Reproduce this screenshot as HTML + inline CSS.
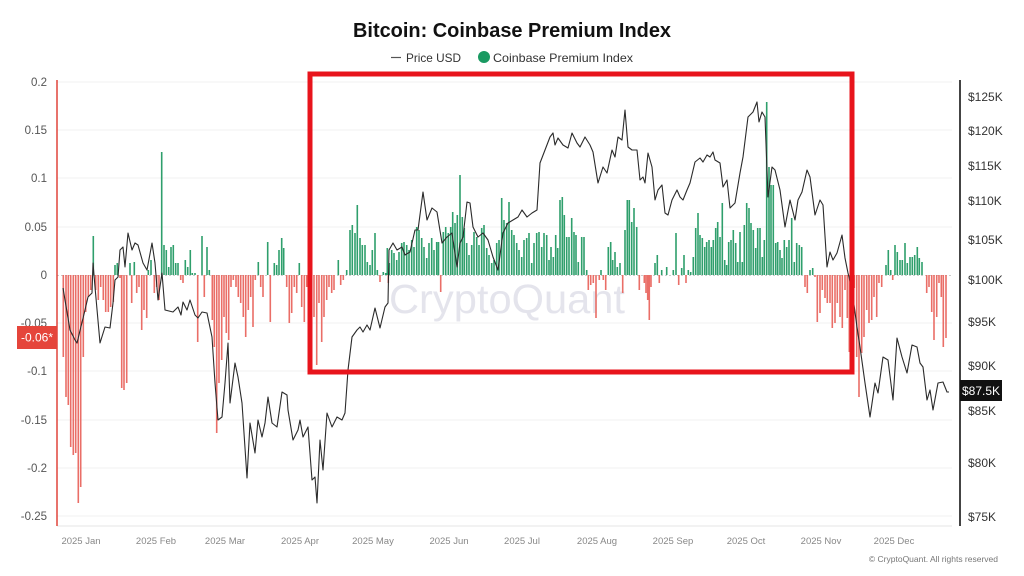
<!DOCTYPE html>
<html><head><meta charset="utf-8"><style>
html,body{margin:0;padding:0;background:#fff;}
svg{display:block;font-family:"Liberation Sans",sans-serif;}
</style></head><body>
<svg width="1024" height="576" viewBox="0 0 1024 576" xmlns="http://www.w3.org/2000/svg">
<rect width="1024" height="576" fill="#fff"/>
<text x="512" y="37" text-anchor="middle" font-size="20" font-weight="bold" fill="#111" textLength="318" lengthAdjust="spacingAndGlyphs">Bitcoin: Coinbase Premium Index</text>
<line x1="391" y1="57.5" x2="401" y2="57.5" stroke="#555" stroke-width="1.2"/>
<text x="406" y="62" font-size="12" fill="#333" textLength="55" lengthAdjust="spacingAndGlyphs">Price USD</text>
<circle cx="484" cy="57" r="6" fill="#1a9a62"/>
<text x="493" y="62" font-size="12" fill="#333" textLength="140" lengthAdjust="spacingAndGlyphs">Coinbase Premium Index</text>
<g stroke="#f1f1f1" stroke-width="1">
<line x1="57" y1="82" x2="952" y2="82"/><line x1="57" y1="130" x2="952" y2="130"/><line x1="57" y1="178" x2="952" y2="178"/><line x1="57" y1="227" x2="952" y2="227"/><line x1="57" y1="323" x2="952" y2="323"/><line x1="57" y1="371" x2="952" y2="371"/><line x1="57" y1="420" x2="952" y2="420"/><line x1="57" y1="468" x2="952" y2="468"/><line x1="57" y1="516" x2="952" y2="516"/>
</g>
<line x1="57" y1="526" x2="952" y2="526" stroke="#e6e6e6" stroke-width="1"/>
<line x1="57" y1="275.5" x2="952" y2="275.5" stroke="#ccc" stroke-width="1" stroke-dasharray="2,2"/>
<text x="507" y="313" text-anchor="middle" font-size="41" fill="#e4e4ec" textLength="236" lengthAdjust="spacingAndGlyphs">CryptoQuant</text>
<g font-size="11.5" fill="#555" text-anchor="end">
<text x="47" y="86">0.2</text><text x="47" y="134">0.15</text><text x="47" y="182">0.1</text><text x="47" y="231">0.05</text><text x="47" y="279">0</text><text x="47" y="327">-0.05</text><text x="47" y="375">-0.1</text><text x="47" y="424">-0.15</text><text x="47" y="472">-0.2</text><text x="47" y="520">-0.25</text>
</g>
<g font-size="12" fill="#333">
<text x="968" y="101">$125K</text><text x="968" y="135">$120K</text><text x="968" y="170">$115K</text><text x="968" y="205">$110K</text><text x="968" y="244">$105K</text><text x="968" y="284">$100K</text><text x="968" y="326">$95K</text><text x="968" y="370">$90K</text><text x="968" y="415">$85K</text><text x="968" y="467">$80K</text><text x="968" y="521">$75K</text>
</g>
<g font-size="9.5" fill="#888" text-anchor="middle">
<text x="81" y="544">2025 Jan</text><text x="156" y="544">2025 Feb</text><text x="225" y="544">2025 Mar</text><text x="300" y="544">2025 Apr</text><text x="373" y="544">2025 May</text><text x="449" y="544">2025 Jun</text><text x="522" y="544">2025 Jul</text><text x="597" y="544">2025 Aug</text><text x="673" y="544">2025 Sep</text><text x="746" y="544">2025 Oct</text><text x="821" y="544">2025 Nov</text><text x="894" y="544">2025 Dec</text>
</g>
<text x="998" y="562" text-anchor="end" font-size="8.5" fill="#777">© CryptoQuant. All rights reserved</text>
<path fill="none" stroke="#ea6e67" stroke-width="1.6" d="M63.3 275V357M66 275V397M68.3 275V405M70.7 275V447M73.3 275V455M75.7 275V453M78.3 275V503M80.7 275V487M83.3 275V357M85.7 275V312M88.3 275V297M90.7 275V290M95.7 275V290M98.3 275V300M100.7 275V287M103.3 275V300M105.7 275V312M108.3 275V312M110.7 275V307M113.3 275V302M120 275V278M121.7 275V388M124 275V390M126.7 275V383M131.7 275V303M136.7 275V293M139 275V287M141.7 275V330M144 275V310M146.7 275V318M154.3 275V293M156.7 275V287M159 275V300M180.7 275V280M183 275V283M197.7 275V342M204.3 275V297M212.3 275V320M214.3 275V347M216.7 275V433M219 275V383M221.7 275V360M224 275V317M226.3 275V333M228.7 275V340M231 275V287M233.3 275V280M236 275V287M238.3 275V297M240.7 275V303M243.3 275V317M245.7 275V337M248.3 275V310M250.7 275V297M253 275V327M255.3 275V280M260.7 275V287M263 275V297M270.3 275V322M286.7 275V287M289.3 275V323M291.7 275V313M294.3 275V287M296.7 275V293M301.7 275V307M304.3 275V322M306.7 275V287M309.3 275V303M314 275V317M316.7 275V365M319 275V303M321.7 275V342M324 275V317M326.7 275V300M329 275V287M331.7 275V293M334 275V290M340.7 275V285M343.3 275V280M380 275V282M388.3 275V283M440.7 275V292M588.3 275V290M590.7 275V285M593.3 275V283M596 275V318M599.3 275V280M603.3 275V280M605.7 275V290M622.7 275V293M639.3 275V290M644.3 275V283M646 275V293M647.7 275V300M649.3 275V320M651 275V287M659.3 275V283M678.7 275V285M686 275V283M805 275V287M807.3 275V293M815 275V277M817.3 275V322M820 275V313M822.3 275V290M825 275V298M827.3 275V303M830 275V303M832.3 275V328M835 275V323M837.3 275V303M840 275V317M842.3 275V328M845 275V290M847.3 275V318M849.3 275V352M851.7 275V323M854.3 275V288M856.7 275V357M859 275V397M861.7 275V353M864 275V337M866.7 275V310M869 275V323M871.7 275V320M874 275V297M876.7 275V317M879 275V283M881.7 275V287M892.7 275V280M926.7 275V293M929 275V287M931.7 275V312M934 275V340M936.7 275V317M939 275V283M941.3 275V297M943.3 275V347M946 275V338"/>
<path fill="none" stroke="#2f9f6c" stroke-width="1.6" d="M93.3 275V236M115 275V265M117.3 275V263M130 275V263M134.3 275V262M148.3 275V270M151 275V260M161.7 275V152M164 275V245M166.3 275V250M168.7 275V267M171 275V247M173.3 275V245M175.7 275V263M178 275V263M185.3 275V260M187.7 275V267M190.3 275V250M192.3 275V273M195 275V273M202 275V236M207 275V247M209.3 275V270M258.3 275V262M267.7 275V242M274.3 275V263M276.7 275V265M279 275V250M281.7 275V238M283.7 275V248M299.3 275V263M338.3 275V260M346.7 275V270M350 275V230M352.3 275V225M355 275V233M357.3 275V205M360 275V238M362.3 275V245M365 275V245M367.3 275V262M370 275V265M372.3 275V250M375 275V233M377.3 275V270M383.3 275V272M385.7 275V273M387.3 275V248M389.3 275V263M391.7 275V250M394 275V253M396.7 275V260M399 275V252M401.7 275V243M404 275V242M406.7 275V245M409 275V250M411.7 275V240M414 275V247M416.7 275V227M419 275V230M421.7 275V238M424 275V247M426.7 275V258M429 275V243M431.7 275V238M434 275V250M436.7 275V242M438.5 275V242M443.3 275V232M445.7 275V227M448.3 275V233M450.7 275V227M452.7 275V212M455 275V223M457.3 275V215M460 275V175M462.3 275V217M464.3 275V228M466.7 275V243M469 275V255M471.7 275V245M474 275V232M476.7 275V237M479 275V245M481.7 275V228M484 275V225M486.7 275V248M489 275V255M491.7 275V263M494 275V260M496.7 275V243M499 275V240M501.7 275V198M504 275V220M506.7 275V223M509 275V202M511.7 275V230M514 275V235M516.7 275V243M519 275V250M521.7 275V257M524 275V240M526.7 275V238M529 275V233M531.7 275V263M534 275V243M536.7 275V233M539 275V232M541.7 275V247M544 275V233M546.7 275V235M549 275V260M551 275V247M553.3 275V257M555.7 275V235M557.7 275V248M560 275V200M562.3 275V197M564.3 275V215M566.7 275V237M569 275V237M571.7 275V218M574 275V232M576 275V235M578.3 275V262M581.7 275V237M584 275V237M586.7 275V270M601 275V270M608.3 275V247M610.7 275V242M612.7 275V260M615 275V252M617.3 275V267M620 275V263M625 275V230M627.3 275V200M629.3 275V200M631.7 275V222M634 275V208M636.7 275V227M655 275V263M657.3 275V255M661.7 275V270M666.7 275V267M673.3 275V270M676 275V233M681.7 275V268M684 275V255M688.3 275V270M690.7 275V272M693.3 275V257M695.7 275V228M698 275V213M700 275V235M702.3 275V238M704.7 275V247M706.7 275V242M709 275V240M711.3 275V247M713.3 275V240M715.7 275V228M717.7 275V222M720 275V237M722.3 275V203M724.7 275V260M726.7 275V265M728.7 275V242M731 275V240M733.3 275V230M735.7 275V243M737.7 275V262M740 275V232M742.3 275V262M744.3 275V225M746.7 275V203M749 275V208M751 275V223M753.3 275V230M755.7 275V248M757.7 275V228M760 275V228M762.3 275V257M764.3 275V240M766.7 275V102M769 275V167M771 275V185M773.3 275V185M775.7 275V243M777.7 275V242M780 275V250M782 275V258M784.3 275V240M786.7 275V247M789 275V240M791.7 275V218M794.3 275V262M796.7 275V243M799.3 275V245M801.7 275V247M810 275V270M812.7 275V268M886 275V265M888.3 275V250M890.7 275V270M895 275V245M897.3 275V252M900 275V260M902.3 275V260M905 275V243M907.3 275V263M910 275V257M912.3 275V257M914.7 275V255M917.3 275V247M919.3 275V258M922 275V262"/>
<polyline fill="none" stroke="#2b2b2b" stroke-width="1.1" stroke-linejoin="round" points="63,288 70,330 75,340 77,343 85,310 88,297 92,293 93,263 95,287 100,343 105,327 110,328 113,303 115,280 118,277 120,250 123,247 125,267 128,233 132,250 135,243 138,245 143,263 147,270 152,243 155,263 158,300 162,273 165,310 173,312 178,307 181,315 183,302 187,310 190,300 195,315 198,318 202,312 207,313 212,337 215,383 218,420 222,417 225,383 228,343 230,403 235,363 238,377 242,403 247,478 250,423 255,453 258,420 262,437 265,423 268,397 272,423 277,427 282,392 287,395 288,410 293,440 298,430 300,420 303,437 308,427 312,480 315,477 317,503 320,440 323,470 327,413 332,427 337,417 342,420 345,413 348,370 352,337 357,330 360,327 363,332 367,325 370,330 375,308 380,328 385,307 388,303 389,250 393,243 397,250 402,247 405,255 410,252 415,230 418,230 423,192 427,220 432,208 437,212 442,243 447,237 452,233 457,267 460,243 463,237 467,202 470,203 473,227 478,237 483,233 488,240 493,257 498,270 503,233 508,223 513,220 518,217 522,210 527,217 532,213 537,210 540,163 545,150 550,137 553,133 555,145 558,138 563,145 568,148 572,133 577,143 580,147 585,137 590,145 593,152 597,177 598,183 603,167 607,173 612,150 615,157 618,137 622,140 625,110 628,147 632,150 637,150 640,180 643,177 645,183 648,153 652,167 655,200 658,190 662,185 665,213 668,215 672,200 677,190 680,197 683,200 687,190 690,183 695,162 700,158 703,162 707,155 710,157 713,152 715,160 720,163 723,187 727,180 730,208 735,203 740,173 743,157 748,117 753,112 757,102 759,122 762,112 765,117 768,197 772,167 775,170 780,190 785,227 790,200 795,220 798,200 802,192 807,170 810,177 815,215 820,200 823,205 827,267 830,252 833,260 837,253 842,235 845,258 848,273 852,290 857,327 860,347 865,383 870,417 875,383 878,393 883,357 888,360 893,400 897,338 902,357 907,373 912,345 917,347 920,363 923,367 927,400 930,390 933,410 938,383 943,382 947,392 949,392"/>
<line x1="57" y1="80" x2="57" y2="526" stroke="#e0453b" stroke-width="1.5"/>
<line x1="960" y1="80" x2="960" y2="526" stroke="#444" stroke-width="2"/>
<rect x="310" y="74" width="542" height="298" fill="none" stroke="#e8141c" stroke-width="5"/>
<rect x="17" y="326" width="40" height="23" fill="#e5453b"/>
<text x="37" y="341.5" text-anchor="middle" font-size="12" fill="#fff">-0.06*</text>
<rect x="960" y="380" width="42" height="21" fill="#111"/>
<text x="981" y="395" text-anchor="middle" font-size="12" fill="#fff">$87.5K</text>
</svg>
</body></html>
